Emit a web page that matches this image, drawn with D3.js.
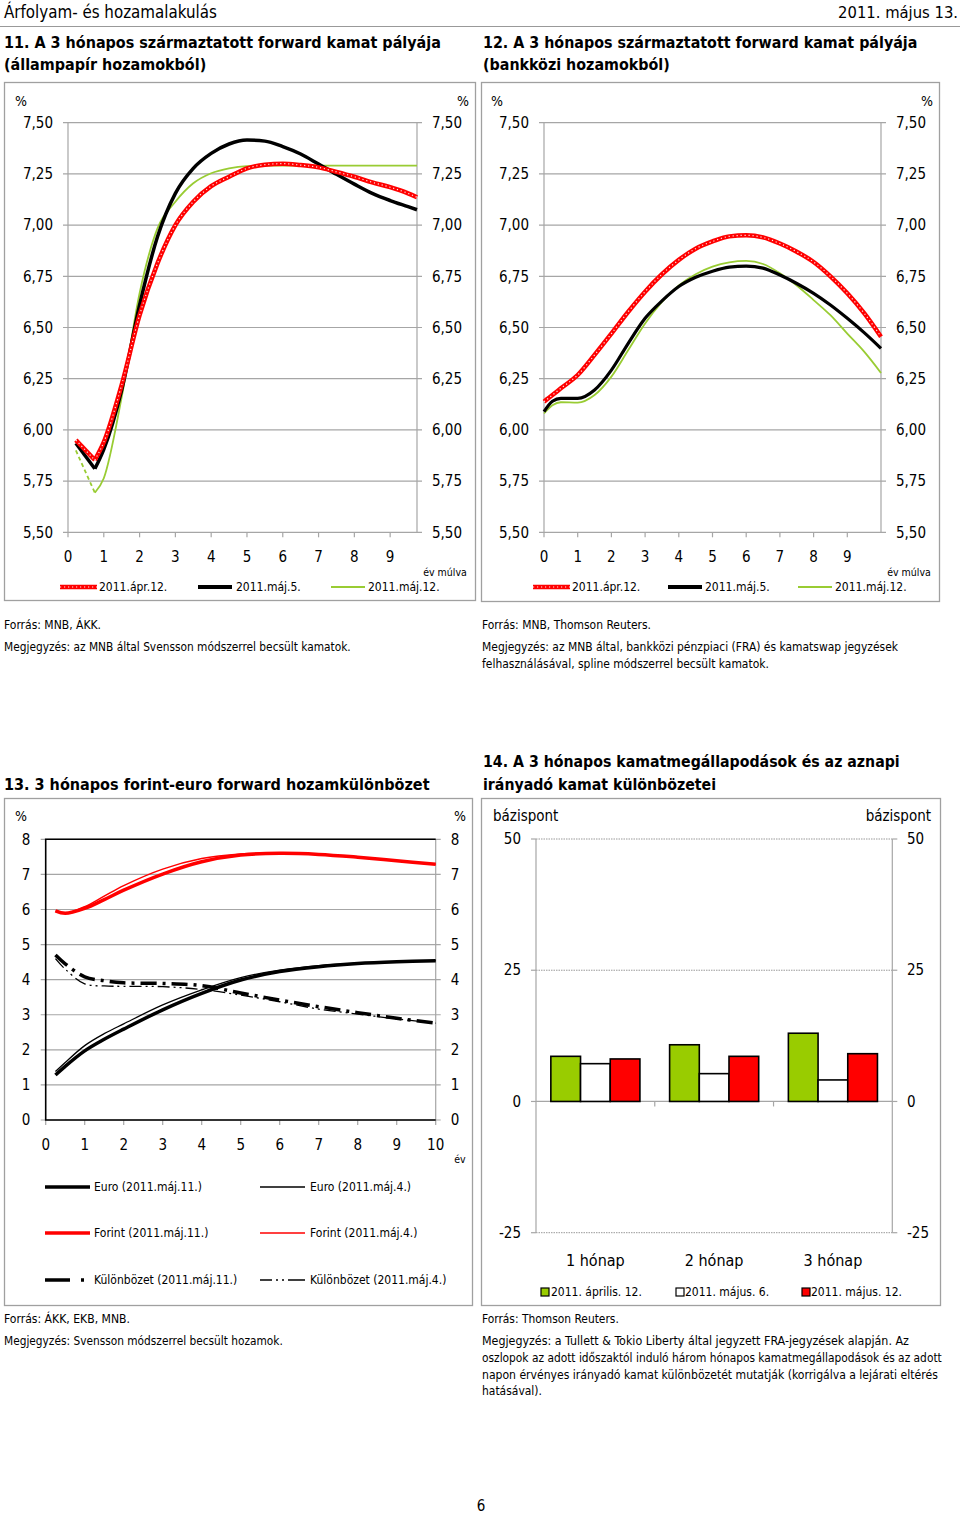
<!DOCTYPE html>
<html><head><meta charset="utf-8">
<script src="https://cdn.jsdelivr.net/npm/d3@7"></script>
<style>
body{margin:0;background:#fff;}
svg text{font-family:"DejaVu Sans Condensed","DejaVu Sans",sans-serif;fill:#000;}
</style></head><body>
<svg id="c" width="960" height="1514"></svg>
<script>
// ---------------- DATA ----------------
const fwdYTicks = [5.5, 5.75, 6.0, 6.25, 6.5, 6.75, 7.0, 7.25, 7.5];
const fwdXTicks = [0,1,2,3,4,5,6,7,8,9];
const fwdSeriesNames = ["2011.ápr.12.", "2011.máj.5.", "2011.máj.12."];

// Chart 11 (állampapír)
const c11Years  = [0.22, 0.75, 1, 1.5, 2, 2.5, 3, 3.5, 4, 4.5, 5, 5.5, 6, 6.5, 7, 7.5, 8, 8.5, 9, 9.5, 9.75];
const c11Apr12  = [5.95, 5.853, 5.94, 6.22, 6.56, 6.813, 7.00, 7.114, 7.19, 7.236, 7.277, 7.295, 7.30, 7.293, 7.282, 7.26, 7.236, 7.209, 7.185, 7.155, 7.136];
const c11Maj5   = [5.935, 5.81, 5.905, 6.195, 6.61, 6.943, 7.155, 7.277, 7.35, 7.396, 7.415, 7.41, 7.383, 7.347, 7.298, 7.248, 7.20, 7.155, 7.12, 7.09, 7.075];
const c11Maj12  = [5.90, 5.693, 5.764, 6.16, 6.667, 6.984, 7.114, 7.204, 7.253, 7.277, 7.288, 7.29, 7.29, 7.29, 7.29, 7.29, 7.29, 7.29, 7.29, 7.29, 7.29];

// Chart 12 (bankközi)
const c12Years  = [0, 0.25, 0.5, 1, 1.5, 2, 2.5, 3, 3.5, 4, 4.5, 5, 5.5, 6, 6.5, 7, 7.5, 8, 8.5, 9, 9.5, 10];
const c12Apr12  = [6.138, 6.17, 6.203, 6.268, 6.366, 6.47, 6.577, 6.675, 6.76, 6.83, 6.885, 6.92, 6.945, 6.95, 6.94, 6.91, 6.87, 6.82, 6.75, 6.667, 6.57, 6.455];
const c12Maj5   = [6.089, 6.14, 6.154, 6.154, 6.195, 6.292, 6.423, 6.545, 6.63, 6.70, 6.745, 6.775, 6.795, 6.80, 6.79, 6.756, 6.715, 6.667, 6.61, 6.545, 6.475, 6.398];
const c12Maj12  = [6.08, 6.12, 6.135, 6.133, 6.17, 6.26, 6.39, 6.52, 6.625, 6.705, 6.76, 6.797, 6.818, 6.825, 6.81, 6.765, 6.705, 6.634, 6.56, 6.47, 6.382, 6.278];

// Chart 13 (forint-euro)
const c13Years       = [0.25, 0.5, 1, 1.5, 2, 3, 4, 5, 6, 7, 8, 9, 10];
const c13EuroMaj11   = [1.28, 1.53, 1.97, 2.30, 2.59, 3.14, 3.61, 3.99, 4.23, 4.37, 4.46, 4.51, 4.54];
const c13EuroMaj4    = [1.38, 1.64, 2.12, 2.46, 2.74, 3.28, 3.71, 4.06, 4.27, 4.40, 4.47, 4.51, 4.54];
const c13ForintMaj11 = [5.96, 5.89, 6.03, 6.28, 6.55, 7.01, 7.36, 7.55, 7.60, 7.57, 7.49, 7.39, 7.29];
const c13ForintMaj4  = [5.96, 5.89, 6.08, 6.38, 6.68, 7.15, 7.45, 7.58, 7.61, 7.57, 7.49, 7.39, 7.29];
const c13DiffMaj11   = [4.70, 4.45, 4.08, 3.97, 3.91, 3.89, 3.83, 3.62, 3.42, 3.23, 3.06, 2.90, 2.76];
const c13DiffMaj4    = [4.60, 4.30, 3.88, 3.82, 3.81, 3.80, 3.72, 3.56, 3.37, 3.16, 3.02, 2.88, 2.76];
const c13YTicks = [0,1,2,3,4,5,6,7,8];
const c13XTicks = [0,1,2,3,4,5,6,7,8,9,10];

// Chart 14 (bars)
const c14Categories = ["1 hónap", "2 hónap", "3 hónap"];
const c14SeriesNames = ["2011. április. 12.", "2011. május. 6.", "2011. május. 12."];
const c14Apr12 = [8.6, 10.8, 13.0];
const c14Maj6  = [7.2, 5.3, 4.1];
const c14Maj12 = [8.1, 8.6, 9.1];
const c14YTicks = [-25, 0, 25, 50];

// ---------------- HELPERS ----------------
const svg = d3.select("#c");
const loc = d3.formatLocale({decimal: ",", thousands: " ", grouping: [3], currency: ["", ""]});
const fmt2 = loc.format(".2f");
const GRID = "#a6a6a6";
const RED = "#ff0000", GREEN = "#99cc33", BARGREEN = "#99cc00";

function txt(g, x, y, s, o = {}) {
  const size = o.size || 12;
  const t = g.append("text").attr("x", x).attr("y", y).text(s)
    .attr("font-size", size).attr("text-anchor", o.anchor || "start").attr("dy", "0.35em");
  if (o.bold) t.attr("font-weight", "bold");
  if (o.fit) {
    const L = t.node().getComputedTextLength();
    if (L > 0) t.attr("font-size", (size * o.fit / L).toFixed(2));
  }
  return t;
}
function fittedSize(s, size, bold, target) {
  const t = svg.append("text").attr("font-size", size).attr("font-weight", bold ? "bold" : "normal").text(s);
  const L = t.node().getComputedTextLength(); t.remove();
  return L > 0 ? size * target / L : size;
}
function frame(x, y, w, h) {
  svg.append("rect").attr("x", x).attr("y", y).attr("width", w).attr("height", h)
    .attr("fill", "none").attr("stroke", "#a0a0a0").attr("stroke-width", 1.3);
}
function zip(xs, ys) { return xs.map((d, i) => [d, ys[i]]); }

function redDotted(g, d, w) {
  g.append("path").attr("d", d).attr("fill", "none").attr("stroke", RED).attr("stroke-width", w || 4.5);
  g.append("path").attr("d", d).attr("fill", "none").attr("stroke", "#fff").attr("stroke-width", 1.2)
    .attr("stroke-dasharray", "1.2,2.8").attr("opacity", 0.9);
}

// ---------------- PAGE HEADER ----------------
txt(svg, 4, 12, "Árfolyam- és hozamalakulás", {size: 16, fit: 213});
txt(svg, 958, 12, "2011. május 13.", {size: 16, anchor: "end", fit: 120});
svg.append("line").attr("x1", 0).attr("x2", 960).attr("y1", 26.5).attr("y2", 26.5).attr("stroke", "#999").attr("stroke-width", 1.2);

// titles
function title(x, lines, ys, target) {
  const sz = fittedSize(lines[0], 15, true, target);
  lines.forEach((l, i) => txt(svg, x, ys[i], l, {size: sz, bold: true}));
}
title(4, ["11. A 3 hónapos származtatott forward kamat pályája", "(állampapír hozamokból)"], [42, 64], 437);
title(483, ["12. A 3 hónapos származtatott forward kamat pályája", "(bankközi hozamokból)"], [42, 64], 435);
title(4, ["13. 3 hónapos forint-euro forward hozamkülönbözet"], [784], 426);
title(483, ["14. A 3 hónapos kamatmegállapodások és az aznapi", "irányadó kamat különbözetei"], [761, 784], 417);

// ---------------- CHARTS 11 & 12 ----------------
function forwardChart(cfg) {
  frame(cfg.fx, 82.5, cfg.fw, cfg.fh);
  const g = svg.append("g");
  const x = d3.scaleLinear().domain([0, cfg.xmax]).range([cfg.left, cfg.right]);
  const y = d3.scaleLinear().domain([5.5, 7.5]).range([532.3, 122.7]);
  g.selectAll("line.grid").data(fwdYTicks).join("line")
    .attr("x1", cfg.left - 5).attr("x2", cfg.right + 5)
    .attr("y1", d => y(d)).attr("y2", d => y(d)).attr("stroke", GRID).attr("stroke-width", 1.2);
  [cfg.left, cfg.right].forEach(xx => g.append("line").attr("x1", xx).attr("x2", xx)
    .attr("y1", y(7.5)).attr("y2", y(5.5)).attr("stroke", GRID).attr("stroke-width", 1.2));
  g.selectAll("line.xt").data(fwdXTicks).join("line")
    .attr("x1", d => x(d)).attr("x2", d => x(d)).attr("y1", y(5.5)).attr("y2", y(5.5) + 5)
    .attr("stroke", GRID).attr("stroke-width", 1.2);
  fwdYTicks.forEach(v => {
    txt(g, cfg.left - 15, y(v), fmt2(v), {size: 15, anchor: "end"});
    txt(g, cfg.right + 15, y(v), fmt2(v), {size: 15});
  });
  fwdXTicks.forEach(v => txt(g, x(v), 557, String(v), {size: 15, anchor: "middle"}));
  txt(g, cfg.pctL, 101, "%", {size: 14, anchor: "middle"});
  txt(g, cfg.pctR, 101, "%", {size: 14, anchor: "middle"});
  txt(g, cfg.evX, 572, "év múlva", {size: 10.5, anchor: "middle"});

  const lineM = d3.line().x(d => x(d[0])).y(d => y(d[1])).curve(cfg.curve);
  const lineL = d3.line().x(d => x(d[0])).y(d => y(d[1]));
  function draw(years, vals, style) {
    const pts = zip(years, vals);
    const head = cfg.head ? pts.slice(0, 2) : null;
    const body = cfg.head ? pts.slice(1) : pts;
    const paths = [];
    if (head) paths.push([lineL(head), true]);
    paths.push([lineM(body), false]);
    paths.forEach(([d, isHead]) => {
      if (style === "red") redDotted(g, d, 4.5);
      else if (style === "black") g.append("path").attr("d", d).attr("fill", "none").attr("stroke", "#000").attr("stroke-width", cfg.blackW);
      else g.append("path").attr("d", d).attr("fill", "none").attr("stroke", GREEN).attr("stroke-width", 1.8)
        .attr("stroke-dasharray", isHead ? "4,3" : null);
    });
  }
  draw(cfg.years, cfg.s3, "green");
  draw(cfg.years, cfg.s2, "black");
  draw(cfg.years, cfg.s1, "red");

  // legend
  const ly = 587;
  const L = cfg.legend;
  redDotted(g, `M${L[0][0]},${ly}H${L[0][1]}`, 4.5);
  txt(g, L[0][2], ly, fwdSeriesNames[0], {size: 12});
  g.append("line").attr("x1", L[1][0]).attr("x2", L[1][1]).attr("y1", ly).attr("y2", ly).attr("stroke", "#000").attr("stroke-width", 4);
  txt(g, L[1][2], ly, fwdSeriesNames[1], {size: 12});
  g.append("line").attr("x1", L[2][0]).attr("x2", L[2][1]).attr("y1", ly).attr("y2", ly).attr("stroke", GREEN).attr("stroke-width", 1.8);
  txt(g, L[2][2], ly, fwdSeriesNames[2], {size: 12});
}

forwardChart({fx: 4.5, fw: 471, fh: 518, left: 68, right: 417, xmax: 9.75, pctL: 21, pctR: 463, evX: 445,
  years: c11Years, s1: c11Apr12, s2: c11Maj5, s3: c11Maj12, head: true, curve: d3.curveMonotoneX, blackW: 3.5,
  legend: [[60, 97, 99], [198, 232, 236], [331, 365, 368]]});
forwardChart({fx: 481.5, fw: 458, fh: 519, left: 544, right: 881, xmax: 10, pctL: 497, pctR: 927, evX: 909,
  years: c12Years, s1: c12Apr12, s2: c12Maj5, s3: c12Maj12, head: false, curve: d3.curveMonotoneX, blackW: 3.2,
  legend: [[533, 570, 572], [668, 702, 705], [798, 832, 835]]});

// notes 11/12
txt(svg, 4, 625, "Forrás: MNB, ÁKK.", {size: 12, fit: 97});
txt(svg, 4, 647, "Megjegyzés: az MNB által Svensson módszerrel becsült kamatok.", {size: 12, fit: 347});
txt(svg, 482, 625, "Forrás: MNB, Thomson Reuters.", {size: 12, fit: 169});
txt(svg, 482, 647, "Megjegyzés: az MNB által, bankközi pénzpiaci (FRA) és kamatswap jegyzések", {size: 12, fit: 416});
txt(svg, 482, 664, "felhasználásával, spline módszerrel becsült kamatok.", {size: 12, fit: 287});

// ---------------- CHART 13 ----------------
(function () {
  frame(4.5, 798.5, 468, 507);
  const g = svg.append("g");
  const x = d3.scaleLinear().domain([0, 10]).range([45.7, 435.7]);
  const y = d3.scaleLinear().domain([0, 8]).range([1120, 839.3]);
  g.selectAll("line.grid").data(c13YTicks).join("line")
    .attr("x1", x(0) - 5).attr("x2", x(10) + 5).attr("y1", d => y(d)).attr("y2", d => y(d))
    .attr("stroke", GRID).attr("stroke-width", 1.2);
  g.append("line").attr("x1", x(10)).attr("x2", x(10)).attr("y1", y(8)).attr("y2", y(0)).attr("stroke", GRID).attr("stroke-width", 1.2);
  g.selectAll("line.xt").data(c13XTicks).join("line")
    .attr("x1", d => x(d)).attr("x2", d => x(d)).attr("y1", y(0)).attr("y2", y(0) + 5).attr("stroke", GRID).attr("stroke-width", 1.2);
  g.append("path").attr("d", `M${x(10)},${y(8)}H${x(0)}V${y(0)}H${x(10)}`).attr("fill", "none").attr("stroke", "#000").attr("stroke-width", 1.6);
  c13YTicks.forEach(v => {
    txt(g, 26, y(v), String(v), {size: 15, anchor: "middle"});
    txt(g, 455, y(v), String(v), {size: 15, anchor: "middle"});
  });
  c13XTicks.forEach(v => txt(g, x(v), 1145, String(v), {size: 15, anchor: "middle"}));
  txt(g, 21, 816, "%", {size: 14, anchor: "middle"});
  txt(g, 460, 816, "%", {size: 14, anchor: "middle"});
  txt(g, 460, 1159, "év", {size: 10.5, anchor: "middle"});

  const line = d3.line().x(d => x(d[0])).y(d => y(d[1])).curve(d3.curveCatmullRom.alpha(0.5));
  const styles = {
    thickRed: {c: RED, w: 3.5}, thinRed: {c: RED, w: 1.5},
    thickBlack: {c: "#000", w: 3.5}, thinBlack: {c: "#000", w: 1.3},
    thickDiff: {c: "#000", w: 3.5, da: "16,6,3,6"}, thinDiff: {c: "#000", w: 1.3, da: "12,4,2,4,2,4"}
  };
  function draw(vals, st) {
    g.append("path").attr("d", line(zip(c13Years, vals))).attr("fill", "none")
      .attr("stroke", st.c).attr("stroke-width", st.w).attr("stroke-dasharray", st.da || null);
  }
  draw(c13ForintMaj4, styles.thinRed);
  draw(c13ForintMaj11, styles.thickRed);
  draw(c13EuroMaj4, styles.thinBlack);
  draw(c13EuroMaj11, styles.thickBlack);
  draw(c13DiffMaj4, styles.thinDiff);
  draw(c13DiffMaj11, styles.thickDiff);

  const rows = [1187, 1233, 1280];
  const seg = (x1, x2, yy, st) => g.append("line").attr("x1", x1).attr("x2", x2).attr("y1", yy).attr("y2", yy)
    .attr("stroke", st.c).attr("stroke-width", st.w).attr("stroke-dasharray", st.da || null);
  seg(45, 90, rows[0], styles.thickBlack); txt(g, 94, rows[0], "Euro (2011.máj.11.)", {size: 12});
  seg(260, 305, rows[0], styles.thinBlack); txt(g, 310, rows[0], "Euro (2011.máj.4.)", {size: 12});
  seg(45, 90, rows[1], styles.thickRed); txt(g, 94, rows[1], "Forint (2011.máj.11.)", {size: 12});
  seg(260, 305, rows[1], styles.thinRed); txt(g, 310, rows[1], "Forint (2011.máj.4.)", {size: 12});
  seg(45, 84, rows[2], {c: "#000", w: 3.5, da: "25,11,3,20"}); txt(g, 94, rows[2], "Különbözet (2011.máj.11.)", {size: 12});
  seg(260, 305, rows[2], {c: "#000", w: 1.5, da: "12,4,2,4,2,4,25"}); txt(g, 310, rows[2], "Különbözet (2011.máj.4.)", {size: 12});
})();
txt(svg, 4, 1319, "Forrás: ÁKK, EKB, MNB.", {size: 12, fit: 126});
txt(svg, 4, 1341, "Megjegyzés: Svensson módszerrel becsült hozamok.", {size: 12, fit: 279});

// ---------------- CHART 14 ----------------
(function () {
  frame(481.5, 798.5, 459, 507);
  const g = svg.append("g");
  const x0 = d3.scaleBand().domain(c14Categories).range([536, 892.3]).paddingInner(0.25).paddingOuter(0.125);
  const x1 = d3.scaleBand().domain(c14SeriesNames).range([0, x0.bandwidth()]);
  const y = d3.scaleLinear().domain([-25, 50]).range([1232.7, 839]);
  const left = 536, right = 892.3;
  c14YTicks.forEach(v => {
    g.append("line").attr("x1", left).attr("x2", right).attr("y1", y(v)).attr("y2", y(v))
      .attr("stroke", v === 0 ? GRID : "#999").attr("stroke-width", v === 0 ? 1.2 : 1)
      .attr("stroke-dasharray", v === 0 ? null : "1.5,1");
    g.append("line").attr("x1", left - 5).attr("x2", left).attr("y1", y(v)).attr("y2", y(v)).attr("stroke", GRID).attr("stroke-width", 1.2);
    g.append("line").attr("x1", right).attr("x2", right + 5).attr("y1", y(v)).attr("y2", y(v)).attr("stroke", GRID).attr("stroke-width", 1.2);
    txt(g, 521, y(v), String(v), {size: 15, anchor: "end"});
    txt(g, 907, y(v), String(v), {size: 15});
  });
  [left, right].forEach(xx => g.append("line").attr("x1", xx).attr("x2", xx).attr("y1", y(50)).attr("y2", y(-25)).attr("stroke", GRID).attr("stroke-width", 1.2));
  const step = x0.step();
  [1, 2].forEach(k => {
    const bx = x0(c14Categories[k]) - step * x0.paddingInner() / 2;
    g.append("line").attr("x1", bx).attr("x2", bx).attr("y1", y(0)).attr("y2", y(0) + 5).attr("stroke", GRID).attr("stroke-width", 1.2);
  });
  const series = [c14Apr12, c14Maj6, c14Maj12];
  const fills = [BARGREEN, "#ffffff", RED];
  c14Categories.forEach((cat, i) => {
    series.forEach((s, j) => {
      const v = s[i];
      g.append("rect").attr("x", x0(cat) + x1(c14SeriesNames[j])).attr("width", x1.bandwidth())
        .attr("y", y(Math.max(0, v))).attr("height", Math.abs(y(v) - y(0)))
        .attr("fill", fills[j]).attr("stroke", "#000").attr("stroke-width", 1.6);
    });
    txt(g, x0(cat) + x0.bandwidth() / 2, 1260, cat, {size: 16, anchor: "middle"});
  });
  txt(g, 493, 816, "bázispont", {size: 15});
  txt(g, 931, 816, "bázispont", {size: 15, anchor: "end"});
  const lx = [[541, 551], [676, 685], [802, 811]];
  lx.forEach((p, j) => {
    g.append("rect").attr("x", p[0]).attr("y", 1288).attr("width", 8).attr("height", 8)
      .attr("fill", fills[j]).attr("stroke", "#000").attr("stroke-width", 1.2);
    txt(g, p[1], 1292, c14SeriesNames[j], {size: 12});
  });
})();
txt(svg, 482, 1319, "Forrás: Thomson Reuters.", {size: 12, fit: 137});
txt(svg, 482, 1341, "Megjegyzés: a Tullett & Tokio Liberty által jegyzett FRA-jegyzések alapján. Az", {size: 12, fit: 427});
txt(svg, 482, 1358, "oszlopok az adott időszaktól induló három hónapos kamatmegállapodások és az adott", {size: 12, fit: 460});
txt(svg, 482, 1375, "napon érvényes irányadó kamat különbözetét mutatják (korrigálva a lejárati eltérés", {size: 12, fit: 456});
txt(svg, 482, 1391, "hatásával).", {size: 12, fit: 60});

txt(svg, 481, 1506, "6", {size: 15, anchor: "middle"});
</script>
</body></html>
